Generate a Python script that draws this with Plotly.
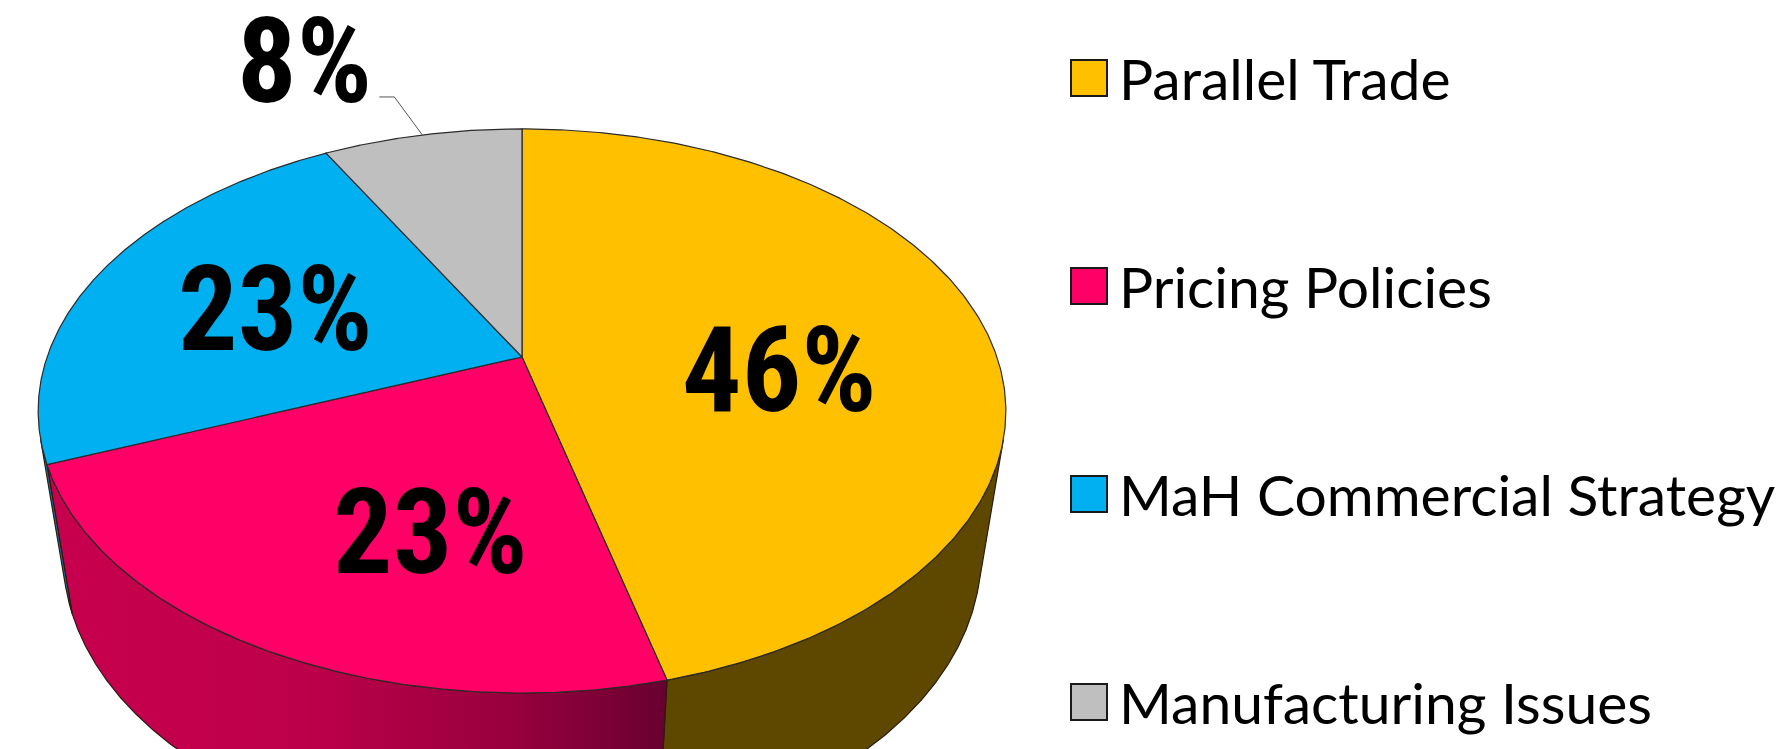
import numpy as np
import plotly.graph_objects as go

# ---------------- data ----------------
categories = ["Parallel Trade", "Pricing Policies", "MaH Commercial Strategy", "Manufacturing Issues"]
values = [46, 23, 23, 8]
pct_labels = ["46%", "23%", "23%", "8%"]

# ---------------- style ----------------
top_colors = ["#FFC000", "#FF0066", "#00B0F0", "#BFBFBF"]
side_colors = ["#5E4800", "#C0004A", "#1576A3", "#707070"]
W, H = 1789, 749
PAGE_OFF = 8  # default body margin of the html page

# 3D projection parameters (pixel space)
CX, CY = 522.0, 357.0
F = 2036.0
D = 4.287
PHI = np.radians(34.9)
DEPTH = 0.39


def project(theta, r, h):
    u = np.sin(theta) * r
    v = np.cos(theta) * r
    yc = h * np.cos(PHI) + v * np.sin(PHI)
    zc = D + v * np.cos(PHI) - h * np.sin(PHI)
    return CX + F * u / zc, CY - F * yc / zc


total = float(sum(values))
fracs = np.array(values) / total
starts = np.concatenate([[0.0], np.cumsum(fracs)[:-1]]) * 2 * np.pi
ends = np.cumsum(fracs) * 2 * np.pi

fig = go.Figure()
EDGE = "#2a1a10"

# ---- side walls (only front-facing parts) ----
for i in range(len(values)):
    th = np.linspace(starts[i], ends[i], 600)
    tx, ty = project(th, 1.0, 0.0)
    bx, by = project(th, 1.0, -DEPTH)
    dtx = np.gradient(tx)
    dty = np.gradient(ty)
    cross = dtx * (by - ty) - dty * (bx - tx)
    vis = cross < 0
    if not vis.any():
        continue
    idx = np.where(vis)[0]
    runs = np.split(idx, np.where(np.diff(idx) != 1)[0] + 1)
    for run in runs:
        if len(run) < 2:
            continue
        px = np.concatenate([tx[run], bx[run][::-1], [tx[run][0]]])
        py = np.concatenate([ty[run], by[run][::-1], [ty[run][0]]])
        kw = dict(fillcolor=side_colors[i])
        if i == 1:
            kw = dict(fillgradient=dict(type="horizontal",
                                        colorscale=[[0, "#C8004E"], [0.4, "#BE004A"],
                                                    [0.75, "#98003E"], [1, "#680030"]]))
        fig.add_trace(go.Scatter(x=px, y=py, mode="lines", fill="toself",
                                 line=dict(color=EDGE, width=1.2),
                                 hoverinfo="skip", showlegend=False, **kw))

# ---- top faces ----
for i in range(len(values)):
    th = np.linspace(starts[i], ends[i], 300)
    rx, ry = project(th, 1.0, 0.0)
    px = np.concatenate([[CX], rx, [CX]])
    py = np.concatenate([[CY], ry, [CY]])
    fig.add_trace(go.Scatter(x=px, y=py, mode="lines", fill="toself",
                             fillcolor=top_colors[i],
                             line=dict(color="#2a2a2a", width=1.2),
                             name=categories[i], hoverinfo="name", showlegend=False))

# ---- percentage labels ----
pct_font = dict(family="Roboto Condensed, Liberation Sans Narrow, Arial Narrow, Roboto, sans-serif",
                size=118, color="black")


def pct_text(s):
    return '<span style="font-stretch:condensed"><b>%s</b></span>' % s


label_shift_deg = [9.0, -10.0, 0.0]
label_radius = [0.545, 0.62, 0.55]
label_nudge = [(-2, 9), (6, -6), (-9, 2)]
for i in range(3):
    mid = (starts[i] + ends[i]) / 2 + np.radians(label_shift_deg[i])
    lx, ly = project(mid, label_radius[i], 0.0)
    fig.add_annotation(x=float(lx) + label_nudge[i][0], y=float(ly) + label_nudge[i][1],
                       text=pct_text(pct_labels[i]),
                       showarrow=False, font=pct_font, xanchor="center", yanchor="middle")

# outside label for the small slice with leader line
mid = (starts[3] + ends[3]) / 2
ax0, ay0 = project(mid, 1.0, 0.0)
ex, ey = ax0 - 28, ay0 - 38
fig.add_trace(go.Scatter(x=[float(ax0), float(ex), float(ex) - 15], y=[float(ay0), float(ey), float(ey)],
                         mode="lines", line=dict(color="#555555", width=1),
                         hoverinfo="skip", showlegend=False))
fig.add_annotation(x=float(ex) - 20, y=float(ey) - 35, text=pct_text(pct_labels[3]),
                   showarrow=False, font=pct_font, xanchor="right", yanchor="middle")

# ---- legend ----
leg_x0, leg_size = 1071, 36
leg_y0, leg_dy = 78, 208
shapes = []
for i, name in enumerate(categories):
    yc = leg_y0 + i * leg_dy
    shapes.append(dict(type="rect", xref="x", yref="y",
                       x0=leg_x0, x1=leg_x0 + leg_size, y0=yc - leg_size / 2, y1=yc + leg_size / 2,
                       fillcolor=top_colors[i], line=dict(color="#1a1a1a", width=2)))
    fig.add_annotation(x=leg_x0 + leg_size + 10, y=yc, text=name, showarrow=False,
                       xanchor="left", yanchor="middle",
                       font=dict(family="Lato, Carlito, Calibri, sans-serif", size=57, color="black"))

fig.update_layout(
    width=W - PAGE_OFF, height=H - PAGE_OFF, autosize=False,
    margin=dict(l=0, r=0, t=0, b=0),
    paper_bgcolor="white", plot_bgcolor="white",
    shapes=shapes,
    xaxis=dict(range=[PAGE_OFF, W], visible=False, fixedrange=True),
    yaxis=dict(range=[H, PAGE_OFF], visible=False, fixedrange=True),
    showlegend=False,
)

fig.write_html("out.html")
